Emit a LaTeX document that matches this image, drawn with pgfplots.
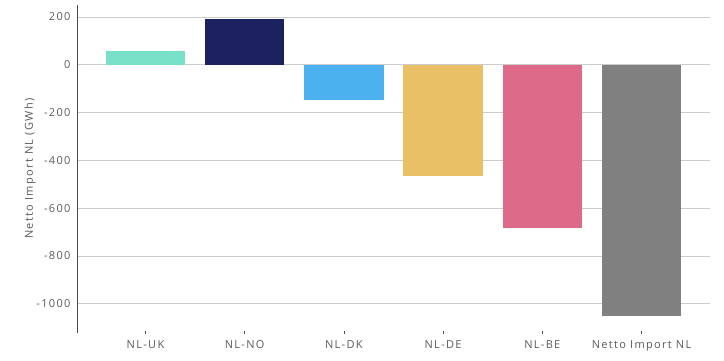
\documentclass[border=0pt]{standalone}
\usepackage{pgfplots}
\pgfplotsset{compat=1.18}
\usepackage{fontspec}
\setmainfont[LetterSpace=12]{Open Sans}
\definecolor{cUK}{HTML}{77E0C6}
\definecolor{cNO}{HTML}{1C2260}
\definecolor{cDK}{HTML}{4BB1EF}
\definecolor{cDE}{HTML}{E9C066}
\definecolor{cBE}{HTML}{DE6A8A}
\definecolor{cNT}{HTML}{808080}
\definecolor{txt}{HTML}{5A5A5A}
\begin{document}
\begin{tikzpicture}
\path[use as bounding box] (-77pt,-28.3pt) rectangle (647pt,332.7pt);
\begin{axis}[
  at={(0,0)}, anchor=south west,
  scale only axis, width=633pt, height=328pt,
  xmin=-0.69, xmax=5.69, ymin=-1121, ymax=251,
  xtick=\empty,
  ytick={-1000,-800,-600,-400,-200,0,200},
  axis x line=none,
  axis y line*=left,
  y axis line style={draw=black!70, -, line width=0.8pt},
  ymajorgrids, grid style={draw=black!20, line width=0.6pt},
  major tick length=0pt,
  tick label style={font=\fontsize{11}{13}\selectfont, text=txt},
  yticklabel style={xshift=-3pt},
  /pgf/number format/assume math mode=true,
  yticklabel style={/pgf/number format/.cd, 1000 sep={}},
  ylabel={Netto Import NL (GWh)},
  ylabel style={font=\fontsize{11}{13}\selectfont, text=txt, at={(-47pt,0.5)}, anchor=center},
  clip=false,
]
\addplot[ybar, bar width=0.8, fill=cUK, draw=none] coordinates {(0,58)};
\addplot[ybar, bar width=0.8, fill=cNO, draw=none] coordinates {(1,190)};
\addplot[ybar, bar width=0.8, fill=cDK, draw=none] coordinates {(2,-148)};
\addplot[ybar, bar width=0.8, fill=cDE, draw=none] coordinates {(3,-466)};
\addplot[ybar, bar width=0.8, fill=cBE, draw=none] coordinates {(4,-685)};
\addplot[ybar, bar width=0.8, fill=cNT, draw=none] coordinates {(5,-1053)};
\end{axis}
\begin{axis}[
  at={(0,0)}, anchor=south west,
  scale only axis, width=633pt, height=328pt,
  xmin=-0.69, xmax=5.69, ymin=-1121, ymax=251,
  axis y line=none, axis x line*=bottom,
  x axis line style={draw=none},
  xtick={0,1,2,3,4,5},
  xticklabels={NL-UK,NL-NO,NL-DK,NL-DE,NL-BE,Netto Import NL},
  xtick style={draw=black!70, line width=0.6pt, yshift=-1pt},
  major tick length=3pt,
  xticklabel style={font=\fontsize{11}{13}\selectfont, text=txt, yshift=-4pt},
]
\end{axis}
\end{tikzpicture}
\end{document}
